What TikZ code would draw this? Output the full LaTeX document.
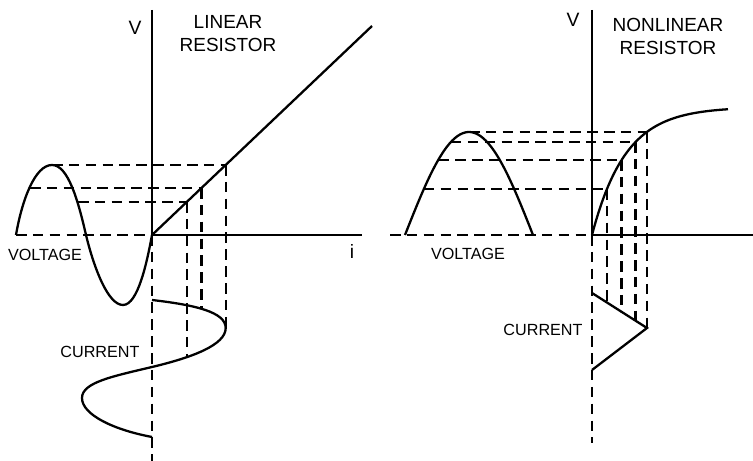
\documentclass[tikz,border=0pt]{standalone}
\usepackage{fontspec}
\setmainfont{Liberation Sans}
\usetikzlibrary{calc}

\begin{document}
\begin{tikzpicture}[axis/.style={line width=1.3pt},
    guide/.style={line width=1.3pt,dash pattern=on 6pt off 3.6pt},
    lbl/.style={font=\fontsize{9.2}{10}\selectfont},
    ttl/.style={font=\fontsize{10.8}{13}\selectfont,align=center},
    sym/.style={font=\fontsize{11}{13}\selectfont}]
    \useasboundingbox (-3.04,-4.52) rectangle (12.02,4.7);
    \coordinate (O1) at (0,0);
    \draw[guide] (-2,1.4)--(1.474,1.4);
    \draw[guide] (-2.44,0.94)--(0.989,0.94);
    \draw[guide] (-1.48,0.66)--(0.695,0.66);
    \draw[guide] (-2.72,0)--(O1);
    \draw[guide] (O1)--(0,-4.52);
    \draw[guide] (1.474,1.4)--(1.474,-1.86);
    \draw[guide] (0.989,0.94)--(0.989,-1.475);
    \draw[guide] (0.695,0.66)--(0.695,-2.445);
    \draw[axis] (0,4.5)--(O1)--(4.2,0);
    \draw[axis] (O1)--(4.4,4.18);
    \draw[axis] (-2.72,0) .. controls (-2.6,0.7) and (-2.34,1.4) .. (-2,1.4)
      .. controls (-1.68,1.4) and (-1.48,0.7) .. (-1.32,0)
      .. controls (-1.16,-0.66) and (-0.88,-1.4) .. (-0.58,-1.4)
      .. controls (-0.28,-1.4) and (-0.1,-0.54) .. (O1);
    \draw[axis] (0,-1.3) .. controls (0.86,-1.4) and (1.474,-1.54) .. (1.474,-1.86)
      .. controls (1.474,-2.2) and (0.8,-2.45) .. (0,-2.64)
      .. controls (-0.8,-2.83) and (-1.4,-2.95) .. (-1.4,-3.26)
      .. controls (-1.4,-3.6) and (-0.75,-3.9) .. (0,-4.04);
    \node[sym] (v1) at (-0.34,4.14) {V};
    \node[ttl] (lin) at (1.52,4.03) {LINEAR\\RESISTOR};
    \node[sym] (i1) at (4.0,-0.34) {i};
    \node[lbl] (volt1) at (-2.14,-0.4) {VOLTAGE};
    \node[lbl] (cur1) at (-1.04,-2.34) {CURRENT};
    \begin{scope}[xshift=8.8cm]
      \coordinate (O2) at (0,0);
      \draw[guide] (-2.46,2.06)--(1.1,2.06);
      \draw[guide] (-2.822,1.86)--(0.872,1.86);
      \draw[guide] (-3.0755,1.5)--(0.592,1.5);
      \draw[guide] (-3.363,0.92)--(0.299,0.92);
      \draw[guide] (-4.04,0)--(O2);
      \draw[guide] (O2)--(0,-4.16);
      \draw[guide] (1.1,2.06)--(1.1,-1.86);
      \draw[guide] (0.872,1.86)--(0.872,-1.715);
      \draw[guide] (0.592,1.5)--(0.592,-1.537);
      \draw[guide] (0.299,0.92)--(0.299,-1.35);
      \draw[axis] (0,4.5)--(O2)--(3.22,0);
      \draw[axis,domain=0:2.72,samples=60,smooth] plot (\x,{2.56*(1-exp(-\x/0.672))});
      \draw[axis,domain=0:180,samples=50,smooth] plot ({-3.74+2.56*\x/180},{2.06*sin(\x)});
      \draw[axis] (0,-1.16)--(1.1,-1.86)--(0,-2.7);
      \node[sym] (v2) at (-0.38,4.3) {V};
      \node[ttl] (nonlin) at (1.52,3.97) {NONLINEAR\\RESISTOR};
      \node[lbl] (volt2) at (-2.48,-0.38) {VOLTAGE};
      \node[lbl] (cur2) at (-0.98,-1.9) {CURRENT};
    \end{scope}
\end{tikzpicture}
\end{document}
